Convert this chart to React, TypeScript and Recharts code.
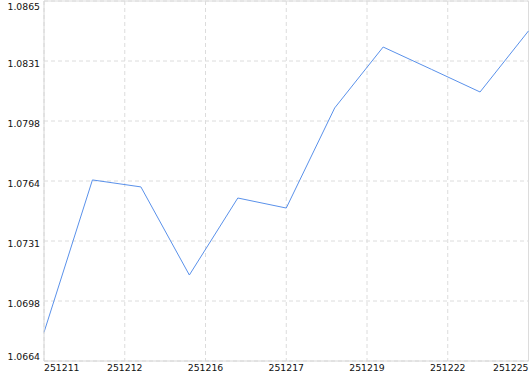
import React from 'react';
import { LineChart, Line, XAxis, YAxis, CartesianGrid, ReferenceLine } from 'recharts';

const categories = ['251211', '251212', '251215', '251216', '251217', '251218', '251219', '251222', '251223', '251224', '251225'];
const values = [1.0680, 1.07651, 1.07612, 1.0712, 1.0755, 1.07494, 1.08053, 1.08393, 1.08268, 1.08142, 1.08483];
const xTickPositions = [0, 1.6667, 3.3333, 5, 6.6667, 8.3333, 10];
const xTickLabels = ['251211', '251212', '251216', '251217', '251219', '251222', '251225'];
const yTickValues = [1.0664, 1.06975, 1.0731, 1.07645, 1.0798, 1.08315, 1.0865];
const yTickLabels = ['1.0664', '1.0698', '1.0731', '1.0764', '1.0798', '1.0831', '1.0865'];

const data = categories.map((c, i) => ({ idx: i, date: c, value: values[i] }));

const FONT = '"DejaVu Sans", Verdana, sans-serif';

const XTick = (props: any) => {
  const { x, y, index } = props;
  const last = xTickLabels.length - 1;
  const anchor = index === 0 ? 'start' : index === last ? 'end' : 'middle';
  return (
    <text x={x} y={y} dy={10} textAnchor={anchor} fontSize={9.3} fontFamily={FONT} fill="#111">
      {xTickLabels[index]}
    </text>
  );
};

const YTick = (props: any) => {
  const { x, y, index } = props;
  const last = yTickLabels.length - 1;
  const dy = index === 0 ? -1.5 : index === last ? 8.5 : 5.5;
  return (
    <text x={x} y={y} dy={dy} textAnchor="end" fontSize={9.3} fontFamily={FONT} fill="#111">
      {yTickLabels[index]}
    </text>
  );
};

export default function App() {
  return (
    <div style={{ position: 'absolute', left: 0, top: 0, background: '#fff' }}>
      <LineChart width={530} height={374} data={data} margin={{ top: 1, right: 1.5, left: 0, bottom: 0 }}>
        <CartesianGrid stroke="#dcdcdc" strokeDasharray="4 3" />
        <XAxis
          type="number"
          dataKey="idx"
          domain={[0, 10]}
          ticks={xTickPositions}
          interval={0}
          height={13}
          tickLine={false}
          tickSize={0}
          tickMargin={0}
          axisLine={{ stroke: '#d6d6d6' }}
          tick={<XTick />}
          allowDecimals
        />
        <YAxis
          type="number"
          domain={[1.0664, 1.0865]}
          ticks={yTickValues}
          interval={0}
          width={44}
          tickLine={false}
          tickSize={0}
          tickMargin={4}
          axisLine={{ stroke: '#d6d6d6' }}
          tick={<YTick />}
          allowDataOverflow
        />
        <ReferenceLine y={1.0865} stroke="#dcdcdc" />
        <ReferenceLine x={10} stroke="#dcdcdc" />
        <Line
          type="linear"
          dataKey="value"
          stroke="#5a91ea"
          strokeWidth={1}
          dot={false}
          activeDot={false}
          isAnimationActive={false}
        />
      </LineChart>
    </div>
  );
}
